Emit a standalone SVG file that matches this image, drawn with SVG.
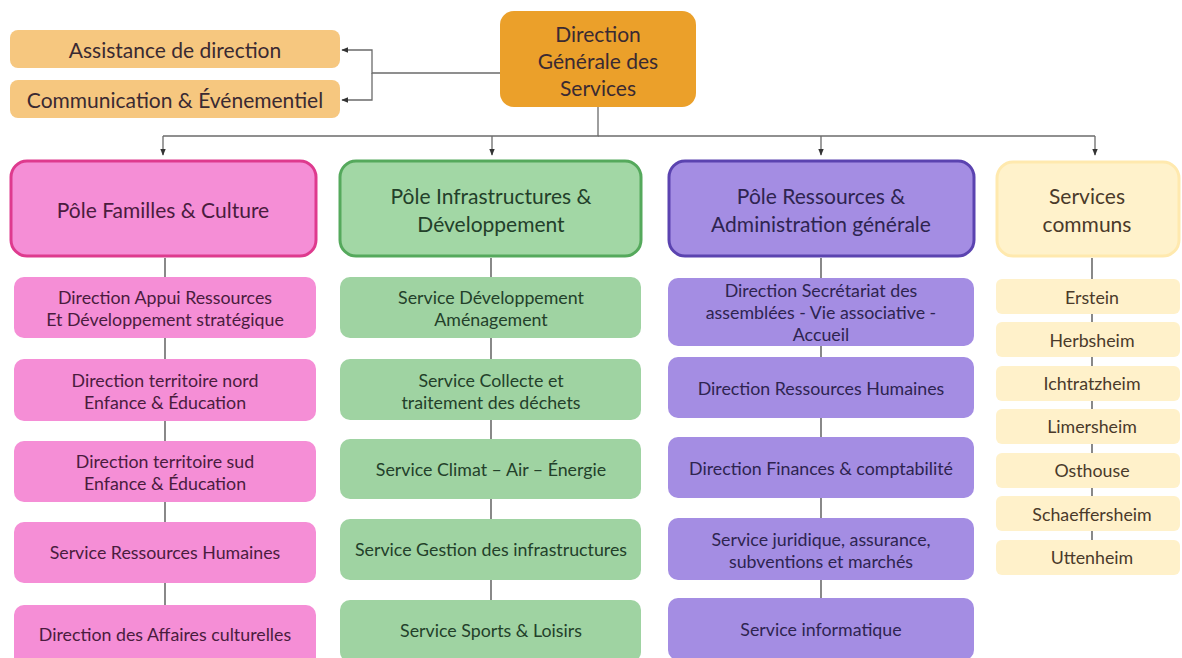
<svg xmlns="http://www.w3.org/2000/svg" width="1182" height="658" viewBox="0 0 1182 658">
<defs>
<style>
text{font-family:Lato,"Open Sans","Liberation Sans",sans-serif;text-anchor:middle;dominant-baseline:central;fill:#3a2a32}
.t{font-size:21px}
.c{font-size:17.8px}
.pk text{fill:#4a1c3e}
.gr text{fill:#23402a}
.pu text{fill:#2e2450}
.ye text{fill:#4a3a2a}
.ln{stroke:#6b6b6b;stroke-width:1.3;fill:none}
.lc{stroke:#6b6b6b;stroke-width:1.6;fill:none}
.dgs{fill:#EBA02A}
.side{fill:#F6C77F}
.ppk{fill:#F58ED6;stroke:#DE3A8E;stroke-width:3}
.pgr{fill:#A2D7A5;stroke:#55A95C;stroke-width:3}
.ppu{fill:#A48DE3;stroke:#5B43B0;stroke-width:3}
.pye{fill:#FFF2CB;stroke:#FFE9AE;stroke-width:3}
.cpk{fill:#F58ED6}
.cgr{fill:#9FD3A2}
.cpu{fill:#A48DE3}
.cye{fill:#FFF1CA}
</style>
<marker id="arr" viewBox="0 0 10 10" refX="9" refY="5" markerWidth="7" markerHeight="7" orient="auto" markerUnits="userSpaceOnUse">
<path d="M0,1 L10,5 L0,9 z" fill="#333"/>
</marker>
</defs>
<rect width="1182" height="658" fill="#ffffff"/>

<g id="connectors">
<path class="ln" d="M500,73 H372 V50 H342" marker-end="url(#arr)"/>
<path class="ln" d="M372,73 V100 H342" marker-end="url(#arr)"/>
<path class="ln" d="M598,107 V136 H163"/>
<path class="ln" d="M598,136 H1095"/>
<path class="ln" d="M163,136 V155" marker-end="url(#arr)"/>
<path class="ln" d="M492,136 V155" marker-end="url(#arr)"/>
<path class="ln" d="M821,136 V155" marker-end="url(#arr)"/>
<path class="ln" d="M1095,136 V155" marker-end="url(#arr)"/>
<path class="lc" d="M165,258 V606"/>
<path class="lc" d="M491,258 V602"/>
<path class="lc" d="M821,258 V600"/>
<path class="lc" d="M1092,258 V540"/>
</g>

<g id="dgs"><rect class="dgs" x="500" y="11" width="196" height="96" rx="14"/>
<text class="t" x="598" y="33">Direction</text><text class="t" x="598" y="60">Générale des</text><text class="t" x="598" y="87">Services</text></g>
<g id="assistance"><rect class="side" x="10" y="30" width="330" height="38" rx="8"/><text class="t" x="175" y="49">Assistance de direction</text></g>
<g id="communication"><rect class="side" x="10" y="80" width="330" height="38" rx="8"/><text class="t" x="175" y="99">Communication &amp; Événementiel</text></g>

<g class="pk">
<g id="pole-familles"><rect class="ppk" x="11" y="161" width="305" height="95" rx="16"/><text class="t" x="163" y="209">Pôle Familles &amp; Culture</text></g>
<g id="pk1"><rect class="cpk" x="14" y="277" width="302" height="61" rx="10"/><text class="c" x="165" y="297">Direction Appui Ressources</text><text class="c" x="165" y="319">Et Développement stratégique</text></g>
<g id="pk2"><rect class="cpk" x="14" y="359" width="302" height="62" rx="10"/><text class="c" x="165" y="380">Direction territoire nord</text><text class="c" x="165" y="402">Enfance &amp; Éducation</text></g>
<g id="pk3"><rect class="cpk" x="14" y="441" width="302" height="61" rx="10"/><text class="c" x="165" y="461">Direction territoire sud</text><text class="c" x="165" y="483">Enfance &amp; Éducation</text></g>
<g id="pk4"><rect class="cpk" x="14" y="522" width="302" height="61" rx="10"/><text class="c" x="165" y="552">Service Ressources Humaines</text></g>
<g id="pk5"><rect class="cpk" x="14" y="605" width="302" height="62" rx="10"/><text class="c" x="165" y="634">Direction des Affaires culturelles</text></g>
</g>

<g class="gr">
<g id="pole-infra"><rect class="pgr" x="340" y="161" width="301" height="95" rx="16"/><text class="t" x="491" y="195">Pôle Infrastructures &amp;</text><text class="t" x="491" y="223">Développement</text></g>
<g id="gr1"><rect class="cgr" x="340" y="277" width="301" height="61" rx="10"/><text class="c" x="491" y="297">Service Développement</text><text class="c" x="491" y="319">Aménagement</text></g>
<g id="gr2"><rect class="cgr" x="340" y="359" width="301" height="61" rx="10"/><text class="c" x="491" y="380">Service Collecte et</text><text class="c" x="491" y="402">traitement des déchets</text></g>
<g id="gr3"><rect class="cgr" x="340" y="439" width="301" height="60" rx="10"/><text class="c" x="491" y="469">Service Climat – Air – Énergie</text></g>
<g id="gr4"><rect class="cgr" x="340" y="519" width="301" height="61" rx="10"/><text class="c" x="491" y="549">Service Gestion des infrastructures</text></g>
<g id="gr5"><rect class="cgr" x="340" y="600" width="301" height="62" rx="10"/><text class="c" x="491" y="630">Service Sports &amp; Loisirs</text></g>
</g>

<g class="pu">
<g id="pole-ressources"><rect class="ppu" x="669" y="161" width="305" height="95" rx="16"/><text class="t" x="821" y="195">Pôle Ressources &amp;</text><text class="t" x="821" y="223">Administration générale</text></g>
<g id="pu1"><rect class="cpu" x="668" y="278" width="306" height="68" rx="10"/><text class="c" x="821" y="290">Direction Secrétariat des</text><text class="c" x="821" y="312">assemblées - Vie associative -</text><text class="c" x="821" y="334">Accueil</text></g>
<g id="pu2"><rect class="cpu" x="668" y="357" width="306" height="61" rx="10"/><text class="c" x="821" y="388">Direction Ressources Humaines</text></g>
<g id="pu3"><rect class="cpu" x="668" y="437" width="306" height="61" rx="10"/><text class="c" x="821" y="468">Direction Finances &amp; comptabilité</text></g>
<g id="pu4"><rect class="cpu" x="668" y="518" width="306" height="62" rx="10"/><text class="c" x="821" y="539">Service juridique, assurance,</text><text class="c" x="821" y="561">subventions et marchés</text></g>
<g id="pu5"><rect class="cpu" x="668" y="598" width="306" height="62" rx="10"/><text class="c" x="821" y="629">Service informatique</text></g>
</g>

<g class="ye">
<g id="services-communs"><rect class="pye" x="997" y="162" width="182" height="94" rx="16"/><text class="t" x="1087" y="195">Services</text><text class="t" x="1087" y="223">communs</text></g>
<g id="erstein"><rect class="cye" x="996" y="279" width="184" height="35" rx="6"/><text class="c" x="1092" y="297">Erstein</text></g>
<g id="herbsheim"><rect class="cye" x="996" y="322" width="184" height="35" rx="6"/><text class="c" x="1092" y="340">Herbsheim</text></g>
<g id="ichtratzheim"><rect class="cye" x="996" y="366" width="184" height="35" rx="6"/><text class="c" x="1092" y="383">Ichtratzheim</text></g>
<g id="limersheim"><rect class="cye" x="996" y="409" width="184" height="35" rx="6"/><text class="c" x="1092" y="426">Limersheim</text></g>
<g id="osthouse"><rect class="cye" x="996" y="453" width="184" height="35" rx="6"/><text class="c" x="1092" y="470">Osthouse</text></g>
<g id="schaeffersheim"><rect class="cye" x="996" y="496" width="184" height="35" rx="6"/><text class="c" x="1092" y="514">Schaeffersheim</text></g>
<g id="uttenheim"><rect class="cye" x="996" y="540" width="184" height="35" rx="6"/><text class="c" x="1092" y="557">Uttenheim</text></g>
</g>
</svg>
